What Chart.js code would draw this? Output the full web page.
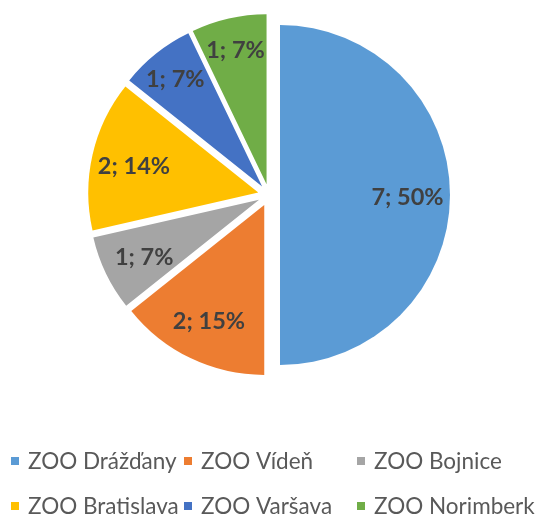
<!DOCTYPE html>
<html>
<head>
  <meta charset="utf-8" />
  <title>ZOO</title>
  <script src="https://cdn.jsdelivr.net/npm/chart.js"></script>
  <style>
    body { margin: 0; background: #fff; }
  </style>
</head>
<body>
  <canvas id="zooChart" width="542" height="514"></canvas>
  <script>
    // data
    const categories = ['ZOO Drážďany', 'ZOO Vídeň', 'ZOO Bojnice', 'ZOO Bratislava', 'ZOO Varšava', 'ZOO Norimberk'];
    const counts = [7, 2, 1, 2, 1, 1];
    const percentLabels = ['50%', '15%', '7%', '14%', '7%', '7%'];
    const colors = ['#5B9BD5', '#ED7D31', '#A5A5A5', '#FFC000', '#4472C4', '#70AD47'];

    const explode = 11;

    // draws each slice moved out along its bisector (exploded pie)
    const explodePlugin = {
      id: 'explode',
      beforeDatasetDraw(chart, args) {
        const ctx = chart.ctx;
        args.meta.data.forEach(arc => {
          const mid = (arc.startAngle + arc.endAngle) / 2;
          ctx.save();
          ctx.translate(Math.cos(mid) * explode, Math.sin(mid) * explode);
          arc.draw(ctx);
          ctx.restore();
        });
        return false;
      },
      afterDatasetsDraw(chart) {
        // data labels "count; percent", pushed outwards until they fit in the slice
        const ctx = chart.ctx;
        const meta = chart.getDatasetMeta(0);
        ctx.save();
        ctx.font = 'bold 23.5px Lato';
        ctx.fillStyle = '#404040';
        ctx.textAlign = 'center';
        ctx.textBaseline = 'middle';
        meta.data.forEach((arc, i) => {
          const text = counts[i] + '; ' + percentLabels[i];
          const w = ctx.measureText(text).width, h = 16;
          const s = arc.startAngle, e = arc.endAngle, mid = (s + e) / 2;
          const ux = Math.cos(mid), uy = Math.sin(mid);
          const n1 = [-Math.sin(s), Math.cos(s)], n2 = [Math.sin(e), -Math.cos(e)];
          const r = arc.outerRadius;
          let k = 0.75;
          for (; k < 0.9; k += 0.01) {
            const px = ux * k * r, py = uy * k * r;
            let ok = true;
            for (const [dx, dy] of [[-w / 2, -h / 2], [w / 2, -h / 2], [-w / 2, h / 2], [w / 2, h / 2]]) {
              const x = px + dx, y = py + dy;
              if (x * n1[0] + y * n1[1] < 1 || x * n2[0] + y * n2[1] < 1) { ok = false; break; }
            }
            if (ok) break;
          }
          ctx.fillText(text, arc.x + ux * (explode + k * r), arc.y + uy * (explode + k * r) + 2);
        });
        ctx.restore();
      },
      afterDraw(chart) {
        // legend: 3 columns x 2 rows under the pie
        const ctx = chart.ctx;
        const colX = [11, 184, 357];
        const rowY = [461, 506];
        ctx.save();
        ctx.font = '22.5px Lato';
        ctx.textBaseline = 'middle';
        categories.forEach((name, i) => {
          const x = colX[i % 3], y = rowY[Math.floor(i / 3)];
          ctx.fillStyle = colors[i];
          ctx.fillRect(x, y - 4, 8, 8);
          ctx.fillStyle = '#595959';
          ctx.fillText(name, x + 17, y + 1);
        });
        ctx.restore();
      }
    };

    new Chart(document.getElementById('zooChart'), {
      type: 'pie',
      data: {
        labels: categories,
        datasets: [{
          data: counts,
          backgroundColor: colors,
          borderWidth: 0,
          hoverBorderWidth: 0
        }]
      },
      options: {
        responsive: false,
        animation: false,
        layout: { padding: { top: 25, bottom: 149, left: 0, right: 4 } },
        plugins: {
          legend: { display: false },
          tooltip: { enabled: false }
        }
      },
      plugins: [explodePlugin]
    });
  </script>
</body>
</html>
